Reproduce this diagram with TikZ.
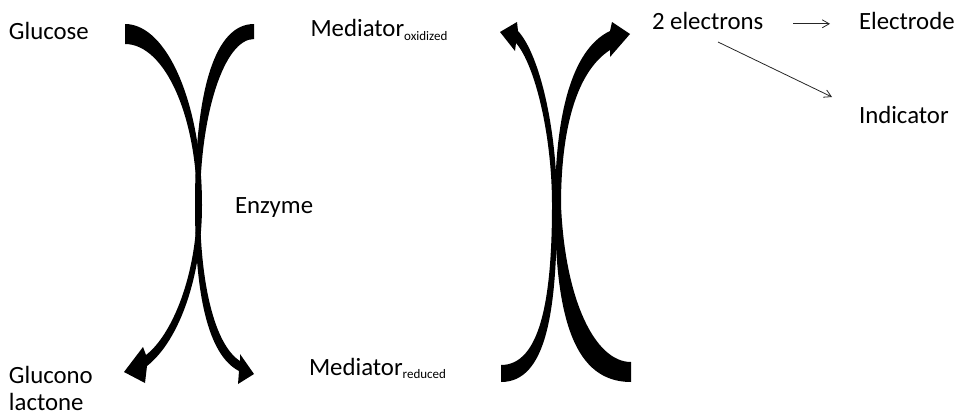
\documentclass[tikz,border=0pt]{standalone}
\usepackage{fontspec}
\setmainfont{Carlito}
\usetikzlibrary{arrows.meta}
\tikzset{
  lbl/.style={inner sep=0pt, outer sep=0pt, text=black, font=\fontsize{24.8}{27}\selectfont},
  bendarrow/.style={fill=black, draw=none},
  thinarrow/.style={-{Straight Barb[length=7pt,width=8pt]}, line width=0.8pt, draw=black!85},
}
\newcommand{\subtxt}[1]{{\fontsize{13}{13}\selectfont\raisebox{-3.8pt}{#1}}}
\begin{document}
\begin{tikzpicture}[x=1pt,y=-1pt]
\useasboundingbox (0,0) rectangle (957,415);

% left pair
\fill[bendarrow] (125,24) .. controls (167.5,24) and (202,105) .. (202,205)
  .. controls (202,275) and (180,340) .. (147,366)
  -- (145,383) -- (124,372) -- (143,347) -- (146,355)
  .. controls (172,335) and (197,275) .. (197,205)
  .. controls (197,116) and (164.7,44) .. (125,44) -- cycle;
\fill[bendarrow] (254,24) .. controls (215.6,24) and (195,87.4) .. (195,205)
  .. controls (195,295) and (208,355) .. (239,371)
  -- (238,384) -- (254,374) -- (240,354) -- (240,361)
  .. controls (215,345) and (200,285) .. (200,205)
  .. controls (200,113.7) and (224.3,39) .. (254,39) -- cycle;

% right pair
\fill[bendarrow] (501,382) .. controls (547,382) and (557,310) .. (557,205)
  .. controls (557,130) and (540,55) .. (518,31)
  -- (517,22) -- (500,32) -- (515,51) -- (516,43)
  .. controls (535,65) and (552,135) .. (552,205)
  .. controls (552,300) and (540,365) .. (501,365) -- cycle;
\fill[bendarrow] (631,382) .. controls (575,382) and (555,320) .. (555,205)
  .. controls (555,120) and (570,50) .. (610,31)
  -- (612,22) -- (630,34) -- (610,57) -- (610,50)
  .. controls (576,72) and (561,130) .. (561,205)
  .. controls (565,300) and (595,362) .. (631,362) -- cycle;

% labels
\node[lbl, anchor=base west] (glucose) at (9,39.3) {Glucose};
\node[lbl, anchor=base west, align=left] (lactone) at (9,410) {Glucono\\lactone};
\node[lbl, anchor=base west] (enzyme) at (235,213.3) {Enzyme};
\node[lbl, anchor=base west] (medox) at (310.5,36.7) {Mediator\subtxt{oxidized}};
\node[lbl, anchor=base west] (medred) at (309,375) {Mediator\subtxt{reduced}};
\node[lbl, anchor=base west] (elec) at (652,29.3) {2 electrons};
\node[lbl, anchor=base west] (electrode) at (859,29.3) {Electrode};
\node[lbl, anchor=base west] (indicator) at (859,123) {Indicator};

% thin arrows
\draw[thinarrow, shorten <=30pt, shorten >=29pt]
  ([yshift=5.5pt]elec.base east) -- ([yshift=5.5pt]electrode.base west);
\coordinate (dstart) at (718,42);
\coordinate (dend) at (832,97);
\draw[thinarrow] (dstart) -- (dend);
\end{tikzpicture}
\end{document}
